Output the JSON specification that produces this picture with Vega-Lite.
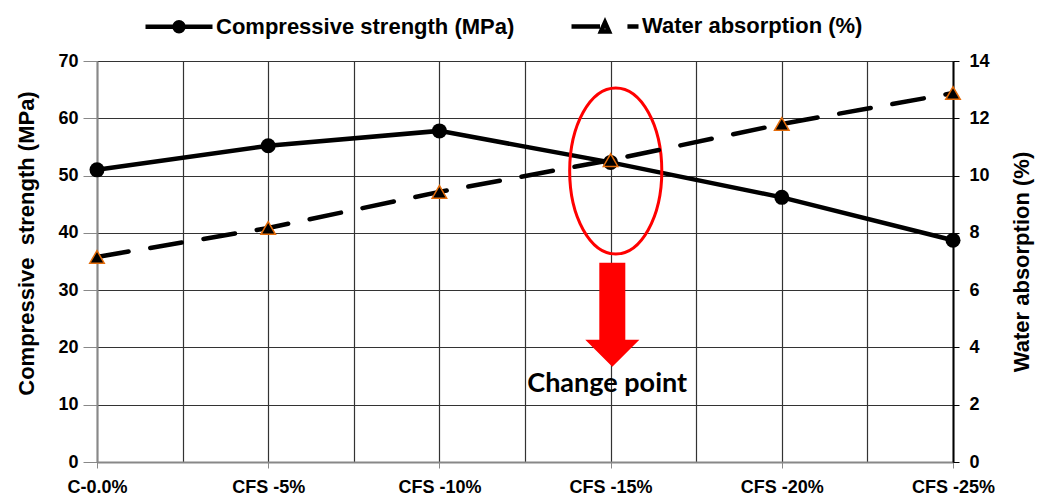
{
  "$schema": "https://vega.github.io/schema/vega-lite/v6.json",
  "width": 856,
  "height": 401,
  "autosize": {"type": "none"},
  "padding": {"left": 97, "top": 61, "right": 99, "bottom": 37},
  "background": "white",
  "config": {
    "font": "Liberation Sans",
    "view": {"stroke": null},
    "axis": {
      "labelFont": "Liberation Sans",
      "labelFontSize": 18,
      "labelFontWeight": "bold",
      "labelColor": "black",
      "titleFont": "Liberation Sans",
      "titleFontSize": 22,
      "titleFontWeight": "bold",
      "titleColor": "black"
    }
  },
  "datasets": {
    "main": [
      {"series": "Compressive strength (MPa)", "cat": "C-0.0%", "idx": 0, "value": 51.0},
      {"series": "Compressive strength (MPa)", "cat": "CFS -5%", "idx": 1, "value": 55.2},
      {"series": "Compressive strength (MPa)", "cat": "CFS -10%", "idx": 2, "value": 57.8},
      {"series": "Compressive strength (MPa)", "cat": "CFS -15%", "idx": 3, "value": 52.3},
      {"series": "Compressive strength (MPa)", "cat": "CFS -20%", "idx": 4, "value": 46.2},
      {"series": "Compressive strength (MPa)", "cat": "CFS -25%", "idx": 5, "value": 38.7},
      {"series": "Water absorption (%)", "cat": "C-0.0%", "idx": 0, "value": 7.16},
      {"series": "Water absorption (%)", "cat": "CFS -5%", "idx": 1, "value": 8.17},
      {"series": "Water absorption (%)", "cat": "CFS -10%", "idx": 2, "value": 9.43},
      {"series": "Water absorption (%)", "cat": "CFS -15%", "idx": 3, "value": 10.54},
      {"series": "Water absorption (%)", "cat": "CFS -20%", "idx": 4, "value": 11.8},
      {"series": "Water absorption (%)", "cat": "CFS -25%", "idx": 5, "value": 12.88}
    ],
    "ann": [
      {"kind": "ellipse", "idx": 3.03, "value": 50.8},
      {"kind": "arrow", "idx": 3.01, "value": 25.7},
      {"kind": "text", "idx": 2.98, "value": 12.2, "label": "Change point"}
    ]
  },
  "layer": [
    {
      "layer": [
        {
          "data": {"name": "main"},
          "transform": [{"filter": "datum.series === 'Compressive strength (MPa)'"}],
          "mark": {"type": "line", "color": "black", "strokeWidth": 4.5},
          "encoding": {
            "x": {
              "field": "idx", "type": "quantitative",
              "scale": {"domain": [0, 5], "nice": false, "zero": false},
              "axis": {
                "title": null,
                "values": [0, 0.5, 1, 1.5, 2, 2.5, 3, 3.5, 4, 4.5, 5],
                "labelExpr": "datum.value % 1 === 0 ? ['C-0.0%','CFS -5%','CFS -10%','CFS -15%','CFS -20%','CFS -25%'][datum.value] : ''",
                "labelOverlap": false,
                "labelFlush": false,
                "labelBound": false,
                "grid": true,
                "gridColor": "#333",
                "gridWidth": 1.2,
                "gridOpacity": 1,
                "domainColor": "#888",
                "domainWidth": 2,
                "tickColor": "#888",
                "tickSize": 6,
                "tickOpacity": {"condition": {"test": "datum.value % 1 === 0", "value": 1}, "value": 0},
                "labelPadding": 10
              }
            },
            "y": {
              "field": "value", "type": "quantitative",
              "scale": {"domain": [0, 70], "nice": false, "zero": true},
              "axis": {
                "title": "Compressive\u00a0 strength (MPa)",
                "values": [0, 10, 20, 30, 40, 50, 60, 70],
                "grid": true,
                "gridColor": "#333",
                "gridWidth": 1.2,
                "gridOpacity": 1,
                "domainColor": "#888",
                "domainWidth": 2,
                "tickColor": "#888",
                "tickSize": 14,
                "labelPadding": 5,
                "titlePadding": 16,
                "titleX": -59,
                "titleY": 182
              }
            }
          }
        },
        {
          "data": {"name": "main"},
          "transform": [{"filter": "datum.series === 'Compressive strength (MPa)'"}],
          "mark": {"type": "point", "shape": "circle", "filled": true, "color": "black", "size": 225, "opacity": 1},
          "encoding": {
            "x": {"field": "idx", "type": "quantitative"},
            "y": {"field": "value", "type": "quantitative"}
          }
        },
        {
          "data": {"name": "main"},
          "mark": {"type": "point", "filled": false, "color": "black", "strokeWidth": 4.5, "opacity": 0},
          "encoding": {
            "x": {"field": "idx", "type": "quantitative"},
            "y": {"field": "value", "type": "quantitative"},
            "shape": {
              "field": "series", "type": "nominal",
              "scale": {
                "domain": ["Compressive strength (MPa)", "Water absorption (%)"],
                "range": [
                  "M-1,0L1,0M0.134,0A0.134,0.134,0,1,1,-0.134,0A0.134,0.134,0,1,1,0.134,0Z",
                  "M-1,0L-0.15,0M-0.12,0.15L0,-0.12L0.12,0.15ZM0.67,0L1,0"
                ]
              },
              "legend": {
                "title": null,
                "orient": "none",
                "legendX": 46,
                "legendY": -71,
                "direction": "horizontal",
                "padding": 0,
                "symbolSize": 4489,
                "symbolFillColor": "black",
                "symbolStrokeColor": "black",
                "symbolStrokeWidth": 4.5,
                "symbolOpacity": 1,
                "labelFont": "Liberation Sans",
                "labelFontSize": 22,
                "labelFontWeight": "bold",
                "labelColor": "black",
                "labelOffset": 1,
                "columnPadding": 47,
                "labelLimit": 500,
                "encode": {
                  "symbols": {
                    "update": {
                      "fill": {"value": "black"},
                      "stroke": {"value": "black"},
                      "strokeWidth": {"value": 4.5},
                      "opacity": {"value": 1}
                    }
                  }
                }
              }
            }
          }
        },
        {
          "data": {"name": "ann"},
          "transform": [{"filter": "datum.kind === 'ellipse'"}],
          "mark": {
            "type": "point",
            "shape": "M0,-1A0.555,1,0,1,1,0,1A0.555,1,0,1,1,0,-1Z",
            "size": 27556,
            "filled": false,
            "stroke": "#FF0000",
            "strokeWidth": 3,
            "opacity": 1
          },
          "encoding": {
            "x": {"field": "idx", "type": "quantitative"},
            "y": {"field": "value", "type": "quantitative"}
          }
        },
        {
          "data": {"name": "ann"},
          "transform": [{"filter": "datum.kind === 'arrow'"}],
          "mark": {
            "type": "point",
            "shape": "M-0.25,-1L0.25,-1L0.25,0.48L0.52,0.48L0,1L-0.52,0.48L-0.25,0.48Z",
            "size": 10816,
            "filled": true,
            "color": "#FF0000",
            "opacity": 1
          },
          "encoding": {
            "x": {"field": "idx", "type": "quantitative"},
            "y": {"field": "value", "type": "quantitative"}
          }
        },
        {
          "data": {"name": "ann"},
          "transform": [{"filter": "datum.kind === 'text'"}],
          "mark": {
            "type": "text",
            "font": "Lato",
            "fontSize": 27,
            "fontWeight": "bold",
            "color": "black",
            "align": "center",
            "baseline": "alphabetic"
          },
          "encoding": {
            "x": {"field": "idx", "type": "quantitative"},
            "y": {"field": "value", "type": "quantitative"},
            "text": {"field": "label"}
          }
        }
      ]
    },
    {
      "layer": [
        {
          "data": {"name": "main"},
          "transform": [{"filter": "datum.series === 'Water absorption (%)'"}],
          "mark": {"type": "line", "color": "black", "strokeWidth": 4.5, "strokeDash": [32, 22], "strokeCap": "round"},
          "encoding": {
            "x": {"field": "idx", "type": "quantitative"},
            "y": {
              "field": "value", "type": "quantitative",
              "scale": {"domain": [0, 14], "nice": false, "zero": true},
              "axis": {
                "orient": "right",
                "title": "Water absorption (%)",
                "titleAngle": 270,
                "values": [0, 2, 4, 6, 8, 10, 12, 14],
                "grid": false,
                "domainColor": "black",
                "domainWidth": 2,
                "tickColor": "black",
                "tickSize": 6,
                "labelPadding": 10,
                "titlePadding": 44
              }
            }
          }
        },
        {
          "data": {"name": "main"},
          "transform": [{"filter": "datum.series === 'Water absorption (%)'"}],
          "mark": {"type": "point", "shape": "triangle-up", "filled": true, "fill": "black", "stroke": "#E46C0A", "strokeWidth": 1.5, "size": 210, "opacity": 1},
          "encoding": {
            "x": {"field": "idx", "type": "quantitative"},
            "y": {"field": "value", "type": "quantitative"}
          }
        }
      ]
    }
  ],
  "resolve": {"scale": {"y": "independent"}}
}
